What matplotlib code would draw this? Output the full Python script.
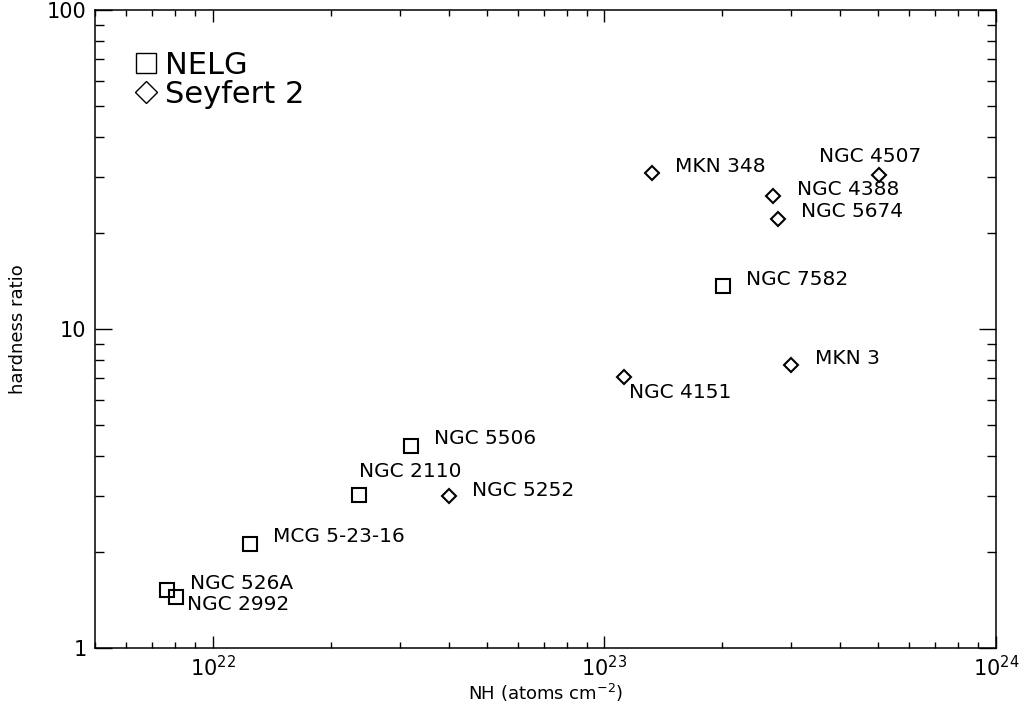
import matplotlib
matplotlib.use("Agg")
import matplotlib.pyplot as plt
from matplotlib.lines import Line2D
from matplotlib.ticker import LogLocator

plt.rcParams['font.family'] = ['DejaVu Sans']
plt.rcParams['mathtext.default'] = 'regular'

# NELG (squares)
nelg_names = ['NGC 526A', 'NGC 2992', 'MCG 5-23-16', 'NGC 2110', 'NGC 5506', 'NGC 7582']
nelg_nh = [7.62e21, 8.03e21, 1.243e22, 2.36e22, 3.2e22, 2.01e23]
nelg_hr = [1.52, 1.45, 2.12, 3.02, 4.31, 13.6]

# Seyfert 2 (diamonds)
sy2_names = ['NGC 5252', 'NGC 4151', 'MKN 3', 'MKN 348', 'NGC 4388', 'NGC 5674', 'NGC 4507']
sy2_nh = [4.01e22, 1.12e23, 3.0e23, 1.32e23, 2.70e23, 2.77e23, 5.02e23]
sy2_hr = [2.99, 7.08, 7.71, 30.8, 26.1, 22.2, 30.5]

# label offsets in points
offsets = {
    'NGC 526A': (16.5, 5, 'left'),
    'NGC 2992': (8.5, -6, 'left'),
    'MCG 5-23-16': (16.5, 5, 'left'),
    'NGC 2110': (0, 16.5, 'left'),
    'NGC 5506': (16.5, 5, 'left'),
    'NGC 7582': (16.5, 5, 'left'),
    'NGC 5252': (16.5, 4.5, 'left'),
    'NGC 4151': (3.5, -11.5, 'left'),
    'MKN 3': (17, 5, 'left'),
    'MKN 348': (16.5, 4.5, 'left'),
    'NGC 4388': (17, 5, 'left'),
    'NGC 5674': (17, 5, 'left'),
    'NGC 4507': (-6, 13, 'center'),
}

fig = plt.figure(figsize=(10.26, 7.17), dpi=100)
ax = fig.add_axes([0.0926, 0.0962, 0.8782, 0.8898])

ax.plot(nelg_nh, nelg_hr, 's', ms=9.5, mfc='none', mec='black', mew=1.5)
ax.plot(sy2_nh, sy2_hr, 'D', ms=7, mfc='none', mec='black', mew=1.5)

for n, x, y in zip(nelg_names + sy2_names, nelg_nh + sy2_nh, nelg_hr + sy2_hr):
    dx, dy, ha = offsets[n]
    ax.annotate(n, (x, y), xytext=(dx, dy), textcoords='offset points',
                ha=ha, va='center', fontsize=14.5)

ax.set_xscale('log')
ax.set_yscale('log')
ax.set_xlim(5e21, 1e24)
ax.set_ylim(1, 100)
ax.yaxis.set_major_formatter(plt.FuncFormatter(lambda v, p: '%d' % v))
ax.xaxis.set_minor_locator(LogLocator(base=10, subs=range(2, 10)))
ax.yaxis.set_minor_locator(LogLocator(base=10, subs=range(2, 10)))
ax.xaxis.set_minor_formatter(plt.NullFormatter())
ax.yaxis.set_minor_formatter(plt.NullFormatter())

ax.tick_params(axis='both', which='both', direction='in', top=True, right=True, width=1)
ax.tick_params(axis='x', which='major', length=8.5, labelsize=15, pad=5)
ax.tick_params(axis='x', which='minor', length=4.3)
ax.tick_params(axis='y', which='major', length=12, labelsize=15, pad=6)
ax.tick_params(axis='y', which='minor', length=6.5)
for s in ax.spines.values():
    s.set_linewidth(1.1)

ax.set_xlabel('NH (atoms cm$^{-2}$)', fontsize=13, labelpad=1)
ax.set_ylabel('hardness ratio', fontsize=13, labelpad=14)

handles = [Line2D([], [], ls='none', marker='s', ms=14, mfc='none', mec='black', mew=1),
           Line2D([], [], ls='none', marker='D', ms=11, mfc='none', mec='black', mew=1)]
leg = ax.legend(handles, ['NELG', 'Seyfert 2'], loc='upper left', bbox_to_anchor=(0.03, 0.955),
                frameon=False, fontsize=22, handlelength=0.8, handletextpad=0.2,
                labelspacing=0.0, borderaxespad=0)

fig.savefig('out.png', dpi=100)
